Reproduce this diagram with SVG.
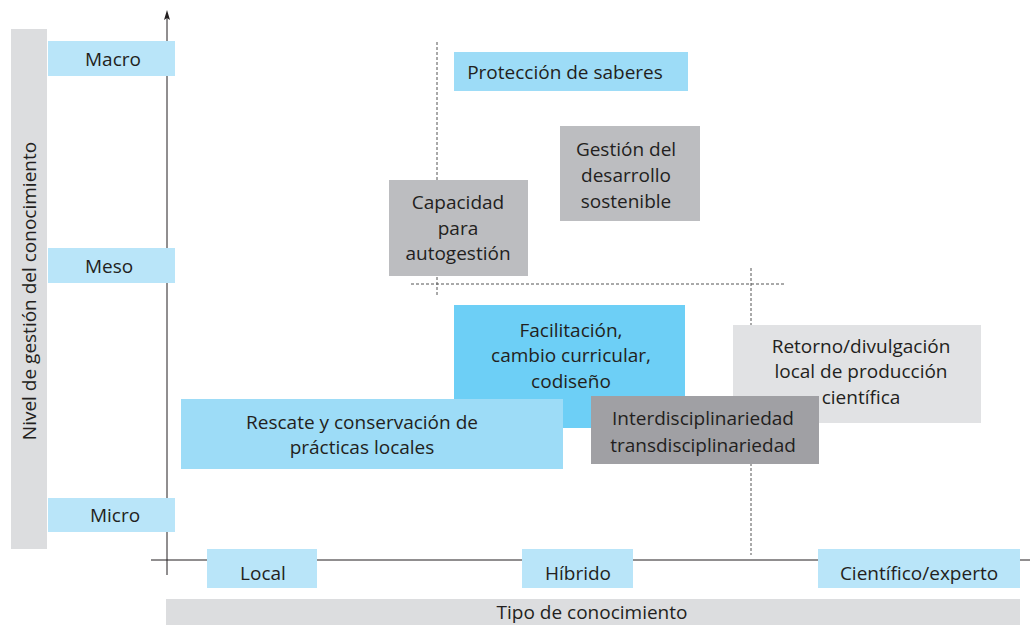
<svg xmlns="http://www.w3.org/2000/svg" width="1030" height="625" viewBox="0 0 1030 625">
<style>
text{font-family:"Open Sans","Noto Sans",sans-serif;font-size:19px;fill:#231f20;text-anchor:middle}
.lb{fill:#b9e5f9}
.mb{fill:#9ddcf7}
.db{fill:#6dcff6}
.g1{fill:#bcbdc0}
.g2{fill:#a0a0a4}
.g3{fill:#e1e2e4}
.bar{fill:#dcdddf}
.dot{stroke:#555;stroke-width:1;stroke-dasharray:3,2;fill:none}
.ax{stroke:#231f20;stroke-width:1;fill:none}
</style>
<g id="y-bar"><rect class="bar" x="11" y="29" width="36" height="520"/><text transform="translate(36,291) rotate(-90)">Nivel de gestión del conocimiento</text></g>
<g id="x-bar"><rect class="bar" x="166" y="599" width="854" height="26"/><text x="592" y="619">Tipo de conocimiento</text></g>
<g id="guides">
<line class="dot" x1="437" y1="42" x2="437" y2="297"/>
<line class="dot" x1="411" y1="284" x2="784" y2="284"/>
<line class="dot" x1="751" y1="268" x2="751" y2="555"/>
</g>
<g id="axes">
<line class="ax" x1="167" y1="575" x2="167" y2="14"/>
<polygon points="167,10 170,20 167,18 164,20" fill="#231f20"/>
<line class="ax" x1="151" y1="560" x2="1030" y2="560"/>
</g>
<g id="macro"><rect class="lb" x="48" y="41" width="127" height="35"/><text x="113" y="66">Macro</text></g>
<g id="meso"><rect class="lb" x="48" y="248" width="127" height="35"/><text x="109" y="273">Meso</text></g>
<g id="micro"><rect class="lb" x="48" y="498" width="127" height="34"/><text x="115" y="522">Micro</text></g>
<g id="local"><rect class="lb" x="207" y="549" width="110" height="39"/><text x="263" y="580">Local</text></g>
<g id="hibrido"><rect class="lb" x="522" y="549" width="111" height="39"/><text x="578" y="580">Híbrido</text></g>
<g id="cientifico"><rect class="lb" x="818" y="549" width="202" height="39"/><text x="919" y="580">Científico/experto</text></g>
<g id="proteccion"><rect class="mb" x="454" y="52" width="234" height="39"/><text x="565" y="79">Protección de saberes</text></g>
<g id="gestion"><rect class="g1" x="560" y="126" width="140" height="95"/><text x="626" y="156">Gestión del</text><text x="626" y="182">desarrollo</text><text x="626" y="208">sostenible</text></g>
<g id="capacidad"><rect class="g1" x="389" y="180" width="139" height="96"/><text x="458" y="209">Capacidad</text><text x="458" y="235">para</text><text x="458" y="260">autogestión</text></g>
<g id="facilitacion"><rect class="db" x="454" y="305" width="231" height="123"/><text x="571" y="337">Facilitación,</text><text x="571" y="362">cambio curricular,</text><text x="571" y="388">codiseño</text></g>
<g id="retorno"><rect class="g3" x="733" y="325" width="248" height="98"/><text x="861" y="353">Retorno/divulgación</text><text x="861" y="378">local de producción</text><text x="861" y="404">científica</text></g>
<g id="rescate"><rect class="mb" x="181" y="399" width="382" height="70"/><text x="362" y="429">Rescate y conservación de</text><text x="362" y="454">prácticas locales</text></g>
<g id="inter"><rect class="g2" x="591" y="396" width="228" height="68"/><text x="703" y="425">Interdisciplinariedad</text><text x="703" y="452">transdisciplinariedad</text></g>
</svg>
